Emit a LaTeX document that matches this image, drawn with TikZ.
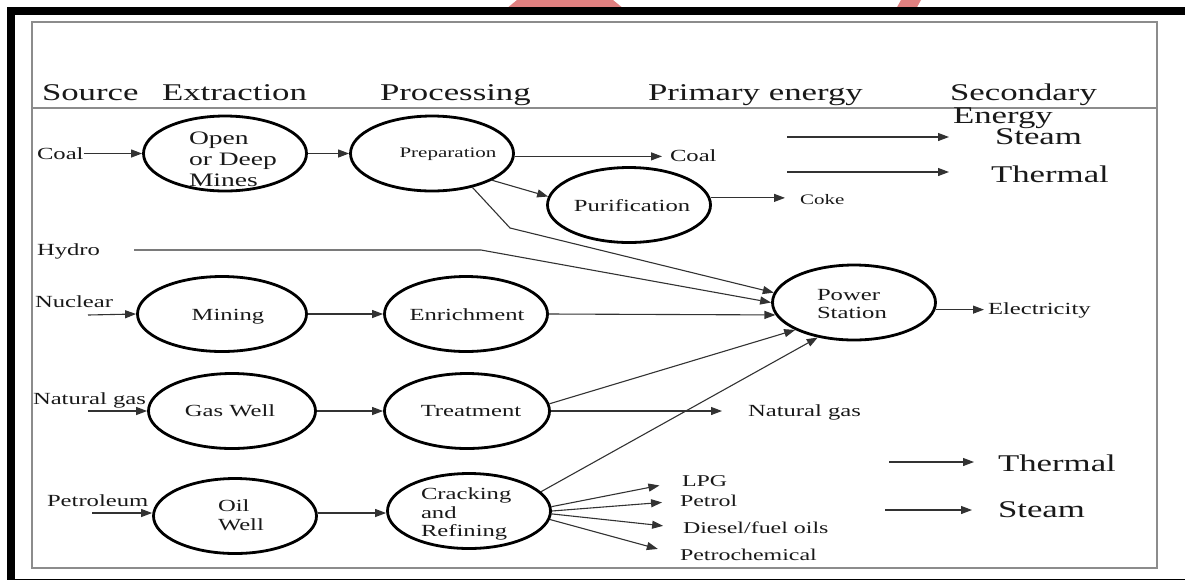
\documentclass[tikz,border=0pt]{standalone}
\usepackage{fontspec}
\setmainfont{Liberation Serif}[FakeStretch=1.45]
\usetikzlibrary{shapes.geometric,arrows.meta,calc}
\definecolor{wm}{RGB}{224,128,128}
\definecolor{frame}{RGB}{140,140,140}
\definecolor{ink}{RGB}{25,25,25}
\definecolor{lineink}{RGB}{50,50,50}
\begin{document}
\begin{tikzpicture}[x=1pt,y=-1pt,
  ell/.style={draw=black,line width=2.8pt,ellipse,minimum width=163pt,minimum height=75pt,inner sep=0},
  lbl/.style={inner sep=0,outer sep=0,text=ink},
  con/.style={draw=lineink,line width=1.1pt},
  arr/.style={con,-{Triangle[length=11pt,width=8pt]}},
  hd/.style={lbl,font=\fontsize{24}{26}\selectfont,anchor=base west},
  mid/.style={lbl,font=\fontsize{17}{18.5}\selectfont},
  sml/.style={lbl,font=\fontsize{16.5}{18}\selectfont,anchor=west},
]
\useasboundingbox (0,0) rectangle (1185,579);
% watermark
\fill[wm] (517,0) -- (613,0) -- (624,9) -- (506,9) -- cycle;
\fill[wm] (901,0) -- (921,0) -- (916,9) -- (896,9) -- cycle;
% frames
\draw[line width=8pt] (10.5,11) rectangle (1189,583);
\draw[frame,line width=1.4pt] (32,22) rectangle (1157,568);
\draw[frame,line width=1.4pt] (32,108) -- (1157,108);
% headers
\node[hd] (hSource) at (42,100) {Source};
\node[hd] (hExtr) at (162,100) {Extraction};
\node[hd] (hProc) at (380,100) {Processing};
\node[hd] (hPrim) at (648,100) {Primary energy};
\node[hd] (hSec) at (950,100) {Secondary};
\node[hd] (hEn) at (953,123) {Energy};
\node[hd] (steamU) at (995,144) {Steam};
\node[hd] (thermU) at (991,182) {Thermal};
\node[hd] (thermL) at (998,471) {Thermal};
\node[hd] (steamL) at (998,517) {Steam};
% ellipses
\node[ell] (mines) at (225,153.5) {};
\node[ell] (prep) at (432,153.5) {};
\node[ell] (purif) at (629,205) {};
\node[ell] (power) at (854,302.5) {};
\node[ell,minimum width=169pt] (mining) at (222,314) {};
\node[ell] (enrich) at (466,314) {};
\node[ell,minimum width=167pt] (gas) at (232,411) {};
\node[ell,minimum width=165pt] (treat) at (467,411) {};
\node[ell] (oil) at (235,516) {};
\node[ell] (crack) at (469,511) {};
% ellipse texts
\node[lbl,font=\fontsize{19}{21}\selectfont,align=left,anchor=west] (minesT) at (189,159) {Open\\or Deep\\Mines};
\node[lbl,font=\fontsize{14.5}{16}\selectfont,anchor=base] (prepT) at (448,157) {Preparation};
\node[mid,anchor=base] (purifT) at (632,211) {Purification};
\node[mid,align=left,anchor=west] (powerT) at (817,304) {Power\\Station};
\node[mid,anchor=base] (miningT) at (228,320) {Mining};
\node[mid,anchor=base] (enrichT) at (467,320) {Enrichment};
\node[mid,anchor=base] (gasT) at (230,416) {Gas Well};
\node[mid,anchor=base] (treatT) at (471,416) {Treatment};
\node[mid,align=left,anchor=west] (oilT) at (218,515) {Oil\\Well};
\node[mid,align=left,anchor=west] (crackT) at (421,514) {Cracking\\and\\Refining};
% source labels
\node[mid,anchor=base west] (coalS) at (37,159) {Coal};
\node[mid,anchor=base west] (hydroS) at (37,255) {Hydro};
\node[mid,anchor=base west] (nucS) at (35,307) {Nuclear};
\node[mid,anchor=base west] (ngS) at (33,404) {Natural gas};
\node[mid,anchor=base west] (petS) at (47,506) {Petroleum};
% product labels
\node[mid,anchor=base west] (coalP) at (670,161) {Coal};
\node[lbl,font=\fontsize{14.5}{16}\selectfont,anchor=base west] (coke) at (800,204) {Coke};
\node[mid,anchor=base west] (ngP) at (748,416) {Natural gas};
\node[mid,anchor=base west] (elec) at (988,314) {Electricity};
\node[sml] (lpg) at (682,481) {LPG};
\node[sml] (petrol) at (680,501) {Petrol};
\node[sml] (diesel) at (683,528) {Diesel/fuel oils};
\node[sml] (petchem) at (680,555) {Petrochemical};
% free coordinates
\coordinate (nucA) at (88,315);
\coordinate (ngA) at (88,411);
\coordinate (petA) at (92,513);
\coordinate (hydA) at (134,250);
\coordinate (hydBend) at (481,250);
\coordinate (prepBend) at (510,228);
\coordinate (st1) at (787,137);
\coordinate (th1) at (787,172);
\coordinate (th2) at (889,462);
\coordinate (st2) at (885,510);
% connectors
\draw[arr] (mines.west -| coalS.east) -- (mines.west);
\draw[arr] (mines.east) -- (prep.west);
\draw[arr,shorten >=8pt] (prep.-2) -- (prep.-2 -| coalP.west);
\draw[arr] (prep.-24) -- (purif.174);
\draw[arr] (prep.-40) -- (prepBend) -- (power.173);
\draw[arr,shorten >=15pt] (purif.5) -- (purif.5 -| coke.west);
\draw[arr] (hydA) -- (hydBend) -- (power.180);
\draw[arr] (nucA) -- (mining.west);
\draw[arr] (mining.east) -- (enrich.west);
\draw[arr] (enrich.east) -- (power.-171);
\draw[arr] (ngA) -- (gas.west);
\draw[arr] (gas.east) -- (treat.west);
\draw[arr,shorten >=26pt] (treat.east) -- (treat.east -| ngP.west);
\draw[arr] (treat.5) -- (power.205);
\draw[arr] (petA) -- (oil.west |- petA);
\draw[arr] (oil.east |- petA) -- (crack.west |- petA);
\draw[arr] (crack.15) -- (power.224);
\draw[arr,shorten >=4pt] (power.-5) -- (power.-5 -| elec.west);
\draw[arr,shorten >=23pt] (crack.3) -- (lpg.west);
\draw[arr,shorten >=18pt] (crack.0) -- (petrol.west);
\draw[arr,shorten >=20pt] (crack.-2) -- (diesel.west);
\draw[arr,shorten >=23pt] (crack.-6) -- (petchem.west);
\draw[arr,shorten >=46pt] (st1) -- (st1 -| steamU.west);
\draw[arr,shorten >=42pt] (th1) -- (th1 -| thermU.west);
\draw[arr,shorten >=24pt] (th2) -- (th2 -| thermL.west);
\draw[arr,shorten >=26pt] (st2) -- (st2 -| steamL.west);
\end{tikzpicture}
\end{document}
